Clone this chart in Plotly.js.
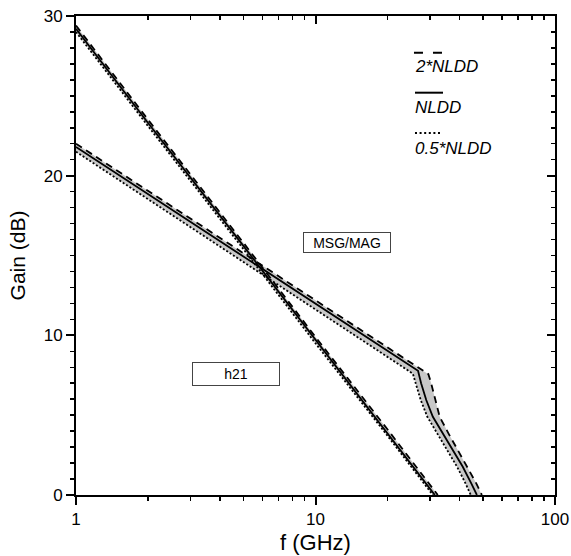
<!DOCTYPE html>
<html>
<head>
<meta charset="utf-8">
<script src="https://cdn.plot.ly/plotly-3.0.1.min.js"></script>
<style>html,body{margin:0;padding:0;background:#fff;}#plot{width:571px;height:556px;}</style>
</head>
<body>
<div id="plot"></div>
<script>
// ---- data (frequency in GHz, gain in dB) ----
// h21 curves
const h21F_2x  = [1, 2, 5, 10, 20, 32.4];
const h21G_2x  = [29.4, 23.5, 15.8, 9.9, 4.1, 0];
const h21F_1x  = [1, 2, 5, 10, 20, 31.5];
const h21G_1x  = [29.2, 23.3, 15.6, 9.7, 3.8, 0];
const h21F_05x = [1, 2, 5, 10, 20, 30.9];
const h21G_05x = [29.0, 23.1, 15.4, 9.5, 3.7, 0];
// MSG/MAG curves
const msgF_2x  = [1, 2, 5, 10, 20, 29.6, 30.4, 31.6, 33.0, 35.9, 39.3, 43.2, 46.9, 49.5];
const msgG_2x  = [22.0, 19.05, 15.14, 12.19, 9.24, 7.57, 7.0, 5.95, 4.9, 3.86, 2.82, 1.77, 0.73, 0];
const msgF_1x  = [1, 2, 5, 10, 20, 26.8, 27.6, 29.0, 30.9, 34.0, 37.4, 41.2, 44.7, 47.2];
const msgG_1x  = [21.8, 18.84, 14.94, 11.98, 9.02, 7.78, 7.0, 5.95, 4.9, 3.86, 2.82, 1.77, 0.73, 0];
const msgF_05x = [1, 2, 5, 10, 20, 25.5, 26.2, 27.5, 29.3, 32.2, 35.4, 39.0, 42.3, 44.5];
const msgG_05x = [21.5, 18.53, 14.59, 11.62, 8.65, 7.6, 7.0, 5.95, 4.9, 3.86, 2.82, 1.77, 0.73, 0];
// labels
const seriesLabels = ['2*NLDD', 'NLDD', '0.5*NLDD'];
const curveLabels = ['MSG/MAG', 'h21'];
const xTitle = 'f (GHz)';
const yTitle = 'Gain (dB)';

// ---- styles ----
const FONT = 'Liberation Sans, Arial, sans-serif';
const BAND = '#c8c8c8';
const styles = {
  '2x':  {color: 'black', width: 1.8, dash: '7px,5px'},
  '1x':  {color: 'black', width: 1.8, dash: 'solid'},
  '05x': {color: 'black', width: 1.8, dash: '2px,2px'}
};

function band(fLow, gLow, fHigh, gHigh) {
  return [
    {x: fLow, y: gLow, mode: 'lines', line: {width: 0, color: 'rgba(0,0,0,0)'}, hoverinfo: 'skip', showlegend: false},
    {x: fHigh, y: gHigh, mode: 'lines', line: {width: 0, color: 'rgba(0,0,0,0)'}, fill: 'tonexty', fillcolor: BAND, hoverinfo: 'skip', showlegend: false}
  ];
}
function line(f, g, key) {
  // lines live on the overlaying axes pair so they sit above the grey bands
  return {x: f, y: g, mode: 'lines', line: styles[key], showlegend: false, hoverinfo: 'skip', xaxis: 'x2', yaxis: 'y2'};
}

const traces = [
  ...band(h21F_05x, h21G_05x, h21F_2x, h21G_2x),
  ...band(msgF_05x, msgG_05x, msgF_2x, msgG_2x),
  line(h21F_05x, h21G_05x, '05x'),
  line(msgF_05x, msgG_05x, '05x'),
  line(h21F_2x, h21G_2x, '2x'),
  line(msgF_2x, msgG_2x, '2x'),
  line(h21F_1x, h21G_1x, '1x'),
  line(msgF_1x, msgG_1x, '1x')
];

const axisCommon = {
  showgrid: false, zeroline: false, showline: true, linecolor: 'black', linewidth: 2,
  tickcolor: 'black', tickwidth: 2, ticklen: 8,
  tickfont: {family: FONT, size: 17, color: 'black'}
};

const layout = {
  width: 571, height: 556,
  margin: {l: 76, r: 16, t: 16, b: 61},
  paper_bgcolor: 'white', plot_bgcolor: 'white',
  font: {family: FONT, color: 'black'},
  showlegend: false,
  xaxis: Object.assign({}, axisCommon, {
    type: 'log', range: [0, 2], dtick: 1, ticks: 'outside',
    minor: {ticks: 'outside', ticklen: 4, tickwidth: 1.5, tickcolor: 'black', dtick: 'D1', showgrid: false},
    title: {text: xTitle, font: {family: FONT, size: 22, color: 'black'}, standoff: 6}
  }),
  yaxis: Object.assign({}, axisCommon, {
    range: [0, 30], dtick: 10, ticks: 'outside',
    minor: {ticks: 'outside', ticklen: 4, tickwidth: 1.5, tickcolor: 'black', dtick: 1, showgrid: false},
    title: {text: yTitle, font: {family: FONT, size: 21, color: 'black'}, standoff: 12}
  }),
  xaxis2: Object.assign({}, axisCommon, {
    type: 'log', range: [0, 2], dtick: 1, ticks: 'inside', side: 'top', overlaying: 'x', anchor: 'y2',
    showticklabels: false,
    minor: {ticks: 'inside', ticklen: 4, tickwidth: 1.5, tickcolor: 'black', dtick: 'D1', showgrid: false}
  }),
  yaxis2: Object.assign({}, axisCommon, {
    range: [0, 30], dtick: 10, ticks: 'inside', side: 'right', overlaying: 'y', anchor: 'x2',
    showticklabels: false,
    minor: {ticks: 'inside', ticklen: 4, tickwidth: 1.5, tickcolor: 'black', dtick: 1, showgrid: false}
  }),
  annotations: [
    {xref: 'x', yref: 'y', x: 1.13, y: 15.8, text: curveLabels[0], showarrow: false,
     font: {family: FONT, size: 14, color: 'black'}, bordercolor: '#444', borderwidth: 1, borderpad: 0,
     width: 86, height: 19, bgcolor: 'white'},
    {xref: 'x', yref: 'y', x: 0.668, y: 7.58, text: curveLabels[1], showarrow: false,
     font: {family: FONT, size: 14, color: 'black'}, bordercolor: '#444', borderwidth: 1, borderpad: 0,
     width: 86, height: 22, bgcolor: 'white'},
    {xref: 'paper', yref: 'paper', x: 0.704, y: 0.894, xanchor: 'left', yanchor: 'middle', showarrow: false,
     text: '<i>' + seriesLabels[0] + '</i>', font: {family: FONT, size: 17, color: 'black'}},
    {xref: 'paper', yref: 'paper', x: 0.704, y: 0.808, xanchor: 'left', yanchor: 'middle', showarrow: false,
     text: '<i>' + seriesLabels[1] + '</i>', font: {family: FONT, size: 17, color: 'black'}},
    {xref: 'paper', yref: 'paper', x: 0.704, y: 0.724, xanchor: 'left', yanchor: 'middle', showarrow: false,
     text: '<i>' + seriesLabels[2] + '</i>', font: {family: FONT, size: 17, color: 'black'}}
  ],
  shapes: [
    {type: 'line', xref: 'paper', yref: 'paper', x0: 0.7056, x1: 0.7662, y0: 0.9234, y1: 0.9234,
     line: {color: 'black', width: 2, dash: '9px,10px'}},
    {type: 'line', xref: 'paper', yref: 'paper', x0: 0.7077, x1: 0.7662, y0: 0.8399, y1: 0.8399,
     line: {color: 'black', width: 2}},
    {type: 'line', xref: 'paper', yref: 'paper', x0: 0.7077, x1: 0.7641, y0: 0.7557, y1: 0.7557,
     line: {color: 'black', width: 2, dash: '2px,2.6px'}}
  ]
};

Plotly.newPlot('plot', traces, layout, {staticPlot: true, displayModeBar: false});
</script>
</body>
</html>
